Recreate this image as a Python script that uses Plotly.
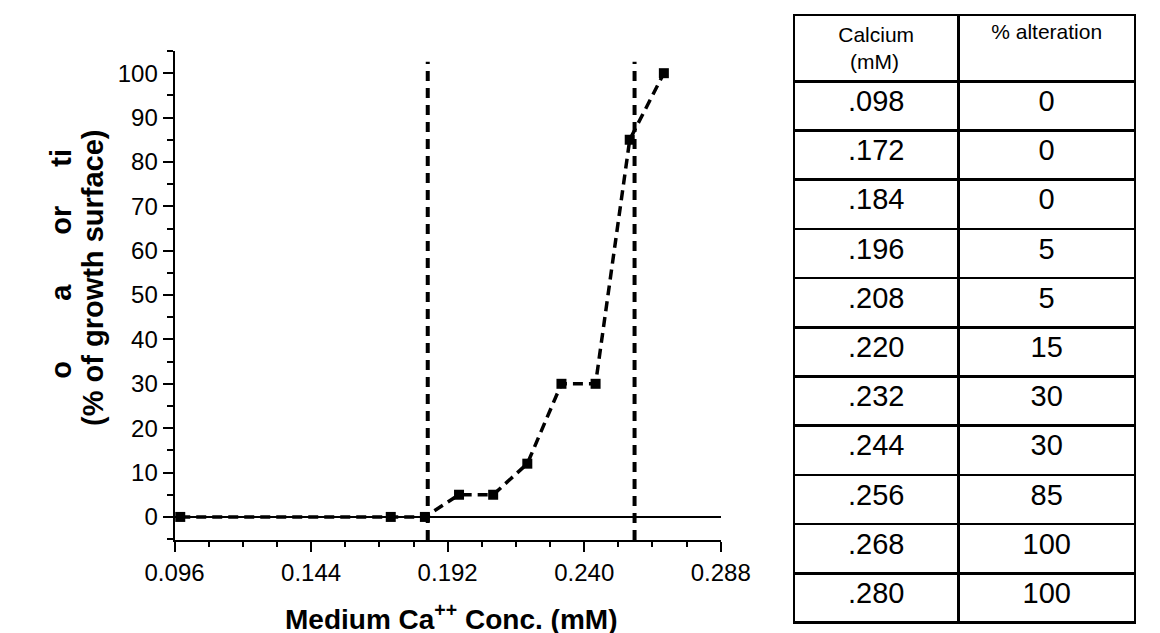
import plotly.graph_objects as go

# ---- data ----
conc_mM = [0.098, 0.172, 0.184, 0.196, 0.208, 0.220, 0.232, 0.244, 0.256, 0.268]
alteration_pct = [0, 0, 0, 5, 5, 12, 30, 30, 85, 100]

threshold_x = [0.185, 0.2577]          # vertical dashed reference lines
threshold_y_span = [-5.2, 102.6]

x_tick_vals = [0.096, 0.144, 0.192, 0.240, 0.288]
y_tick_vals = [0, 10, 20, 30, 40, 50, 60, 70, 80, 90, 100]

table_header = ["Calcium<br>\u00a0\u00a0(mM)", "% alteration"]
table_calcium = [".098", ".172", ".184", ".196", ".208", ".220", ".232", ".244", ".256", ".268", ".280"]
table_alteration = ["0", "0", "0", "5", "5", "15", "30", "30", "85", "100", "100"]

y_title_line1 = ["o", "a", "or", "ti"]
y_title_line2 = "(% of growth surface)"
x_title = "Medium Ca<sup>++</sup> Conc. (mM)"

# ---- layout geometry (pixels) ----
W, H = 1160, 633
FONT = "Liberation Sans, Arial, sans-serif"
px_x = lambda p: p / W
px_y = lambda p: 1 - p / H

fig = go.Figure()

for xv in threshold_x:
    fig.add_trace(go.Scatter(
        x=[xv, xv], y=threshold_y_span, mode="lines",
        line=dict(color="black", width=4, dash="10px,7px"),
        showlegend=False, hoverinfo="skip"))

fig.add_trace(go.Scatter(
    x=conc_mM, y=alteration_pct, mode="lines+markers",
    line=dict(color="black", width=3.5, dash="10px,6px"),
    marker=dict(symbol="square", size=10, color="black"),
    showlegend=False, cliponaxis=False))

fig.add_trace(go.Table(
    domain=dict(x=[px_x(797), px_x(1157)], y=[px_y(628), px_y(7)]),
    columnwidth=[174, 186],
    header=dict(values=table_header, align="center", height=56,
                fill_color="white", line=dict(color="black", width=2.5),
                font=dict(family=FONT, size=21, color="black")),
    cells=dict(values=[table_calcium, table_alteration], align="center", height=49.2,
               fill_color="white", line=dict(color="black", width=2.5),
               font=dict(family=FONT, size=29, color="black")),
))

fig.update_layout(
    width=W, height=H,
    margin=dict(l=0, r=0, t=0, b=0),
    paper_bgcolor="white", plot_bgcolor="white",
    font=dict(family=FONT, color="black"),
    xaxis=dict(
        domain=[px_x(144), px_x(720)], range=[0.096, 0.288],
        tickmode="array", tickvals=x_tick_vals, tickformat=".3f",
        ticks="outside", ticklen=10, tickwidth=2, tickcolor="black",
        minor=dict(dtick=0.012, tick0=0.096, ticks="outside", ticklen=5, tickwidth=2, tickcolor="black"),
        showline=True, linewidth=2, linecolor="black",
        showgrid=False, zeroline=False,
        tickfont=dict(size=24, family=FONT, color="black"),
    ),
    yaxis=dict(
        domain=[px_y(532), px_y(43)], range=[-5.2, 105],
        tickmode="array", tickvals=y_tick_vals,
        ticks="outside", ticklen=10, tickwidth=2, tickcolor="black",
        minor=dict(dtick=5, tick0=0, ticks="outside", ticklen=6, tickwidth=2, tickcolor="black"),
        showline=True, linewidth=2, linecolor="black",
        showgrid=False, zeroline=True, zerolinecolor="black", zerolinewidth=1.5,
        tickfont=dict(size=24, family=FONT, color="black"),
    ),
)

annotations = []
frag_y = [362, 284, 212, 150]
for txt, yy in zip(y_title_line1, frag_y):
    annotations.append(dict(text="<b>" + txt + "</b>", x=px_x(24), y=px_y(yy),
                            xref="paper", yref="paper", textangle=-90, showarrow=False,
                            xanchor="center", yanchor="middle",
                            font=dict(size=29, family=FONT, color="black")))
annotations.append(dict(text="<b>" + y_title_line2 + "</b>", x=px_x(58), y=px_y(270),
                        xref="paper", yref="paper", textangle=-90, showarrow=False,
                        xanchor="center", yanchor="middle",
                        font=dict(size=29, family=FONT, color="black")))
annotations.append(dict(text="<b>" + x_title + "</b>", x=px_x(436), y=px_y(609),
                        xref="paper", yref="paper", showarrow=False,
                        xanchor="center", yanchor="middle",
                        font=dict(size=28, family=FONT, color="black")))
fig.update_layout(annotations=annotations)

fig.write_html("out.html")
